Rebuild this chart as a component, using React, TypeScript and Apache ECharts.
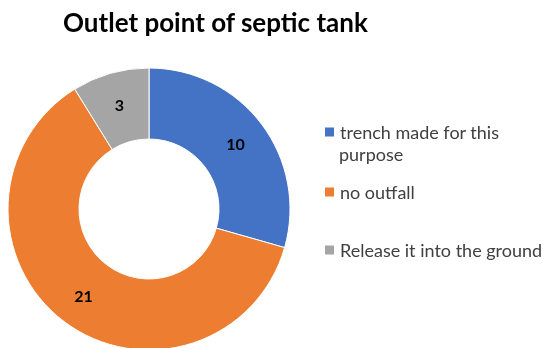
import React, { useEffect, useRef } from "react";
import * as echarts from "echarts";

const categories = ["trench made for this purpose", "no outfall", "Release it into the ground"];
const values = [10, 21, 3];
const colors = ["#4472C4", "#ED7D31", "#A5A5A5"];
const title = "Outlet point of septic tank";

export default function App() {
  const ref = useRef<HTMLDivElement>(null);
  useEffect(() => {
    const chart = echarts.init(ref.current!, null, { renderer: "svg" });
    const legendFont = { fontFamily: "Lato", fontSize: 18, color: "#404040" };
    const legendTops = [118, 178, 236];
    chart.setOption({
      animation: false,
      title: {
        text: title,
        left: 58,
        top: 4,
        textStyle: { fontFamily: "Lato", fontWeight: "bold", fontSize: 26, color: "#000" },
      },
      legend: categories.map((c, i) => ({
        data: [c],
        left: 318,
        top: legendTops[i],
        icon: "rect",
        itemWidth: 11,
        itemHeight: 11,
        itemGap: 6,
        selectedMode: false,
        formatter: (n: string) => (n === categories[0] ? "trench made for this" : n),
        textStyle: legendFont,
      })),
      graphic: [
        {
          type: "text",
          left: 339,
          top: legendTops[0] + 27,
          style: { text: "purpose", fontFamily: "Lato", fontSize: 18, fill: "#404040" },
        },
      ],
      series: [
        {
          type: "pie",
          center: [149, 209],
          radius: [70, 141],
          startAngle: 90,
          clockwise: true,
          itemStyle: { borderColor: "#fff", borderWidth: 1 },
          label: {
            show: true,
            position: "inside",
            formatter: "{c}",
            fontFamily: "Lato",
            fontWeight: "bold",
            fontSize: 16,
            color: "#000",
          },
          labelLine: { show: false },
          data: categories.map((c, i) => ({ name: c, value: values[i], itemStyle: { color: colors[i] } })),
        },
      ],
    });
    return () => chart.dispose();
  }, []);
  return <div ref={ref} style={{ position: "fixed", left: 0, top: 0, width: 546, height: 348 }} />;
}
